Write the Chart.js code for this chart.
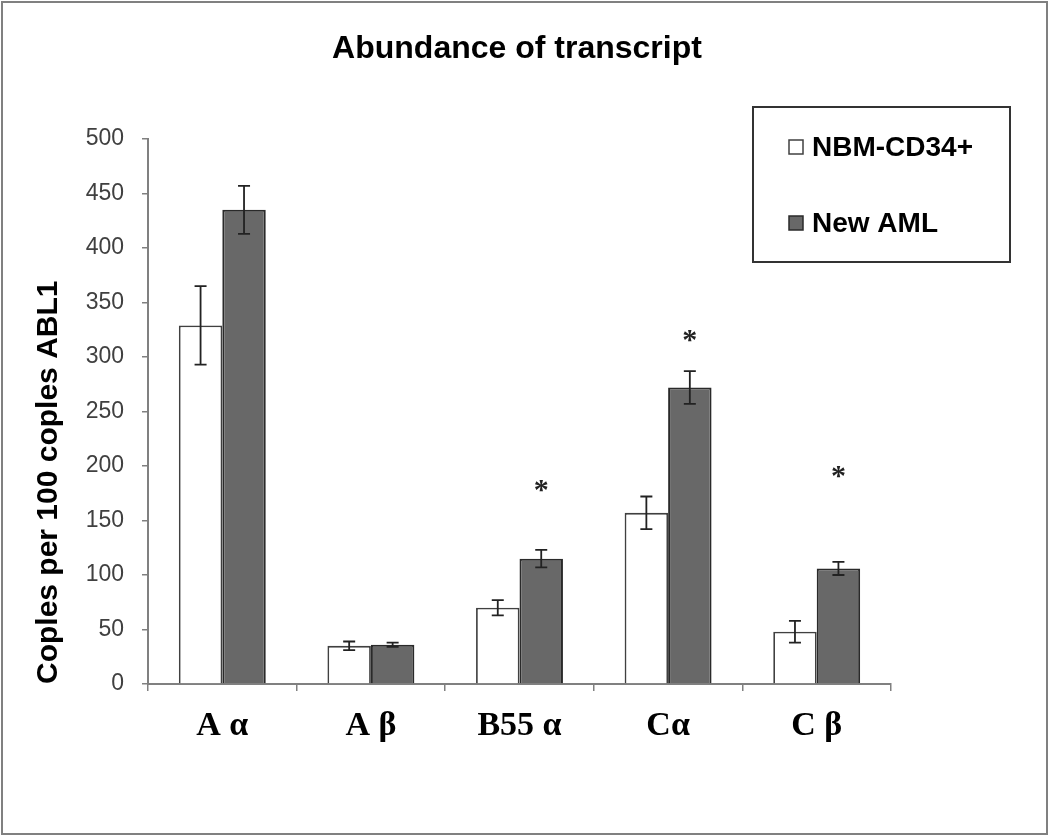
<!DOCTYPE html>
<html>
<head>
<meta charset="utf-8">
<script src="https://cdn.jsdelivr.net/npm/chart.js@4.4.1/dist/chart.umd.min.js"></script>
<style>
    html, body { margin: 0; padding: 0; background: #fff; }
</style>
</head>
<body>
<canvas id="grafica" width="1050" height="837"></canvas>
<script>
// Datos
const categorias = ['A α', 'A β', 'B55 α', 'Cα', 'C β'];
const nbmCD34 = [329, 35, 70, 157, 48];
const nbmCD34Err = [36, 4, 7, 15, 10];
const newAML = [435, 36, 115, 272, 106];
const newAMLErr = [22, 2, 8, 15, 6];
// posicion (en unidades del eje) de los asteriscos sobre New AML
const asteriscos = [null, null, 182, 320, 195];

// Marco exterior y fondo
const marco = {
    id: 'marco',
    beforeDraw(chart) {
        const ctx = chart.ctx;
        ctx.save();
        ctx.fillStyle = '#fff';
        ctx.fillRect(0, 0, chart.width, chart.height);
        ctx.strokeStyle = '#808080';
        ctx.lineWidth = 2;
        ctx.strokeRect(2, 2, chart.width - 5, chart.height - 5);
        ctx.restore();
    }
};

// Barras de error
const barrasError = {
    id: 'barrasError',
    afterDatasetsDraw(chart) {
        const ctx = chart.ctx;
        const y = chart.scales.y;
        ctx.save();
        ctx.strokeStyle = '#222';
        ctx.lineWidth = 1.8;
        chart.data.datasets.forEach((ds, i) => {
            chart.getDatasetMeta(i).data.forEach((bar, j) => {
                const e = ds.errores[j];
                const arriba = y.getPixelForValue(ds.data[j] + e);
                const abajo = y.getPixelForValue(ds.data[j] - e);
                ctx.beginPath();
                ctx.moveTo(bar.x, arriba);
                ctx.lineTo(bar.x, abajo);
                ctx.moveTo(bar.x - 6, arriba);
                ctx.lineTo(bar.x + 6, arriba);
                ctx.moveTo(bar.x - 6, abajo);
                ctx.lineTo(bar.x + 6, abajo);
                ctx.stroke();
            });
        });
        // asteriscos de significancia
        ctx.fillStyle = '#222';
        ctx.font = 'bold 30px "Liberation Serif"';
        ctx.textAlign = 'center';
        ctx.textBaseline = 'middle';
        chart.getDatasetMeta(1).data.forEach((bar, j) => {
            if (asteriscos[j] !== null) {
                ctx.fillText('*', bar.x, y.getPixelForValue(asteriscos[j]) + 6);
            }
        });
        ctx.restore();
    }
};

// Leyenda con recuadro
const leyendaCaja = {
    id: 'leyendaCaja',
    afterDraw(chart) {
        const ctx = chart.ctx;
        ctx.save();
        ctx.strokeStyle = '#333';
        ctx.lineWidth = 2;
        ctx.strokeRect(753, 107, 257, 155);
        ctx.font = 'bold 28px "Liberation Sans"';
        ctx.textBaseline = 'middle';
        ctx.textAlign = 'left';
        chart.data.datasets.forEach((ds, i) => {
            const yy = 147 + i * 76;
            ctx.fillStyle = ds.backgroundColor;
            ctx.fillRect(789, yy - 7, 14, 14);
            ctx.strokeStyle = ds.borderColor;
            ctx.lineWidth = 1.5;
            ctx.strokeRect(789, yy - 7, 14, 14);
            ctx.fillStyle = '#000';
            ctx.fillText(ds.label, 812, yy + 1);
        });
        ctx.restore();
    }
};

const $grafica = document.querySelector('#grafica');
new Chart($grafica, {
    type: 'bar',
    data: {
        labels: categorias,
        datasets: [{
                label: 'NBM-CD34+',
                data: nbmCD34,
                errores: nbmCD34Err,
                backgroundColor: '#ffffff',
                borderColor: '#404040',
                borderWidth: 1.8
            }, {
                label: 'New AML',
                data: newAML,
                errores: newAMLErr,
                backgroundColor: '#686868',
                borderColor: '#2a2a2a',
                borderWidth: 2
            }]
    },
    options: {
        responsive: false,
        animation: false,
        layout: {
            padding: { left: 0, right: 16, top: 0, bottom: 73 }
        },
        datasets: {
            bar: { barPercentage: 1, categoryPercentage: 0.585 }
        },
        plugins: {
            legend: { display: false },
            tooltip: { enabled: false },
            title: {
                display: true,
                text: 'Abundance of transcript',
                color: '#000',
                font: { family: 'Liberation Sans', size: 32, weight: 'bold' },
                padding: { top: 30, bottom: 70.6 }
            }
        },
        scales: {
            x: {
                afterFit: scale => { scale.height = 80; },
                grid: { drawOnChartArea: false, tickLength: 7, color: '#808080', lineWidth: 1.5 },
                border: { color: '#808080', width: 2 },
                ticks: {
                    color: '#000',
                    padding: 15,
                    font: { family: 'Liberation Serif', size: 34, weight: 'bold' }
                }
            },
            y: {
                min: 0,
                max: 500,
                afterFit: scale => { scale.width = 148; },
                grid: { drawOnChartArea: false, tickLength: 6, color: '#808080', lineWidth: 1.5 },
                border: { color: '#808080', width: 2 },
                ticks: {
                    stepSize: 50,
                    color: '#404040',
                    padding: 18,
                    font: { family: 'Liberation Sans', size: 23 }
                },
                title: {
                    display: true,
                    text: 'Coples per 100 coples ABL1',
                    align: 'start',
                    color: '#000',
                    padding: { top: 31 },
                    font: { family: 'Liberation Sans', size: 30, weight: 'bold' }
                }
            },
            // eje vacio a la derecha: reserva el hueco bajo la leyenda
            derecha: {
                position: 'right',
                display: true,
                min: 0,
                max: 500,
                afterFit: scale => { scale.width = 143; },
                grid: { display: false },
                border: { display: false },
                ticks: { display: false }
            }
        }
    },
    plugins: [marco, barrasError, leyendaCaja]
});
</script>
</body>
</html>
